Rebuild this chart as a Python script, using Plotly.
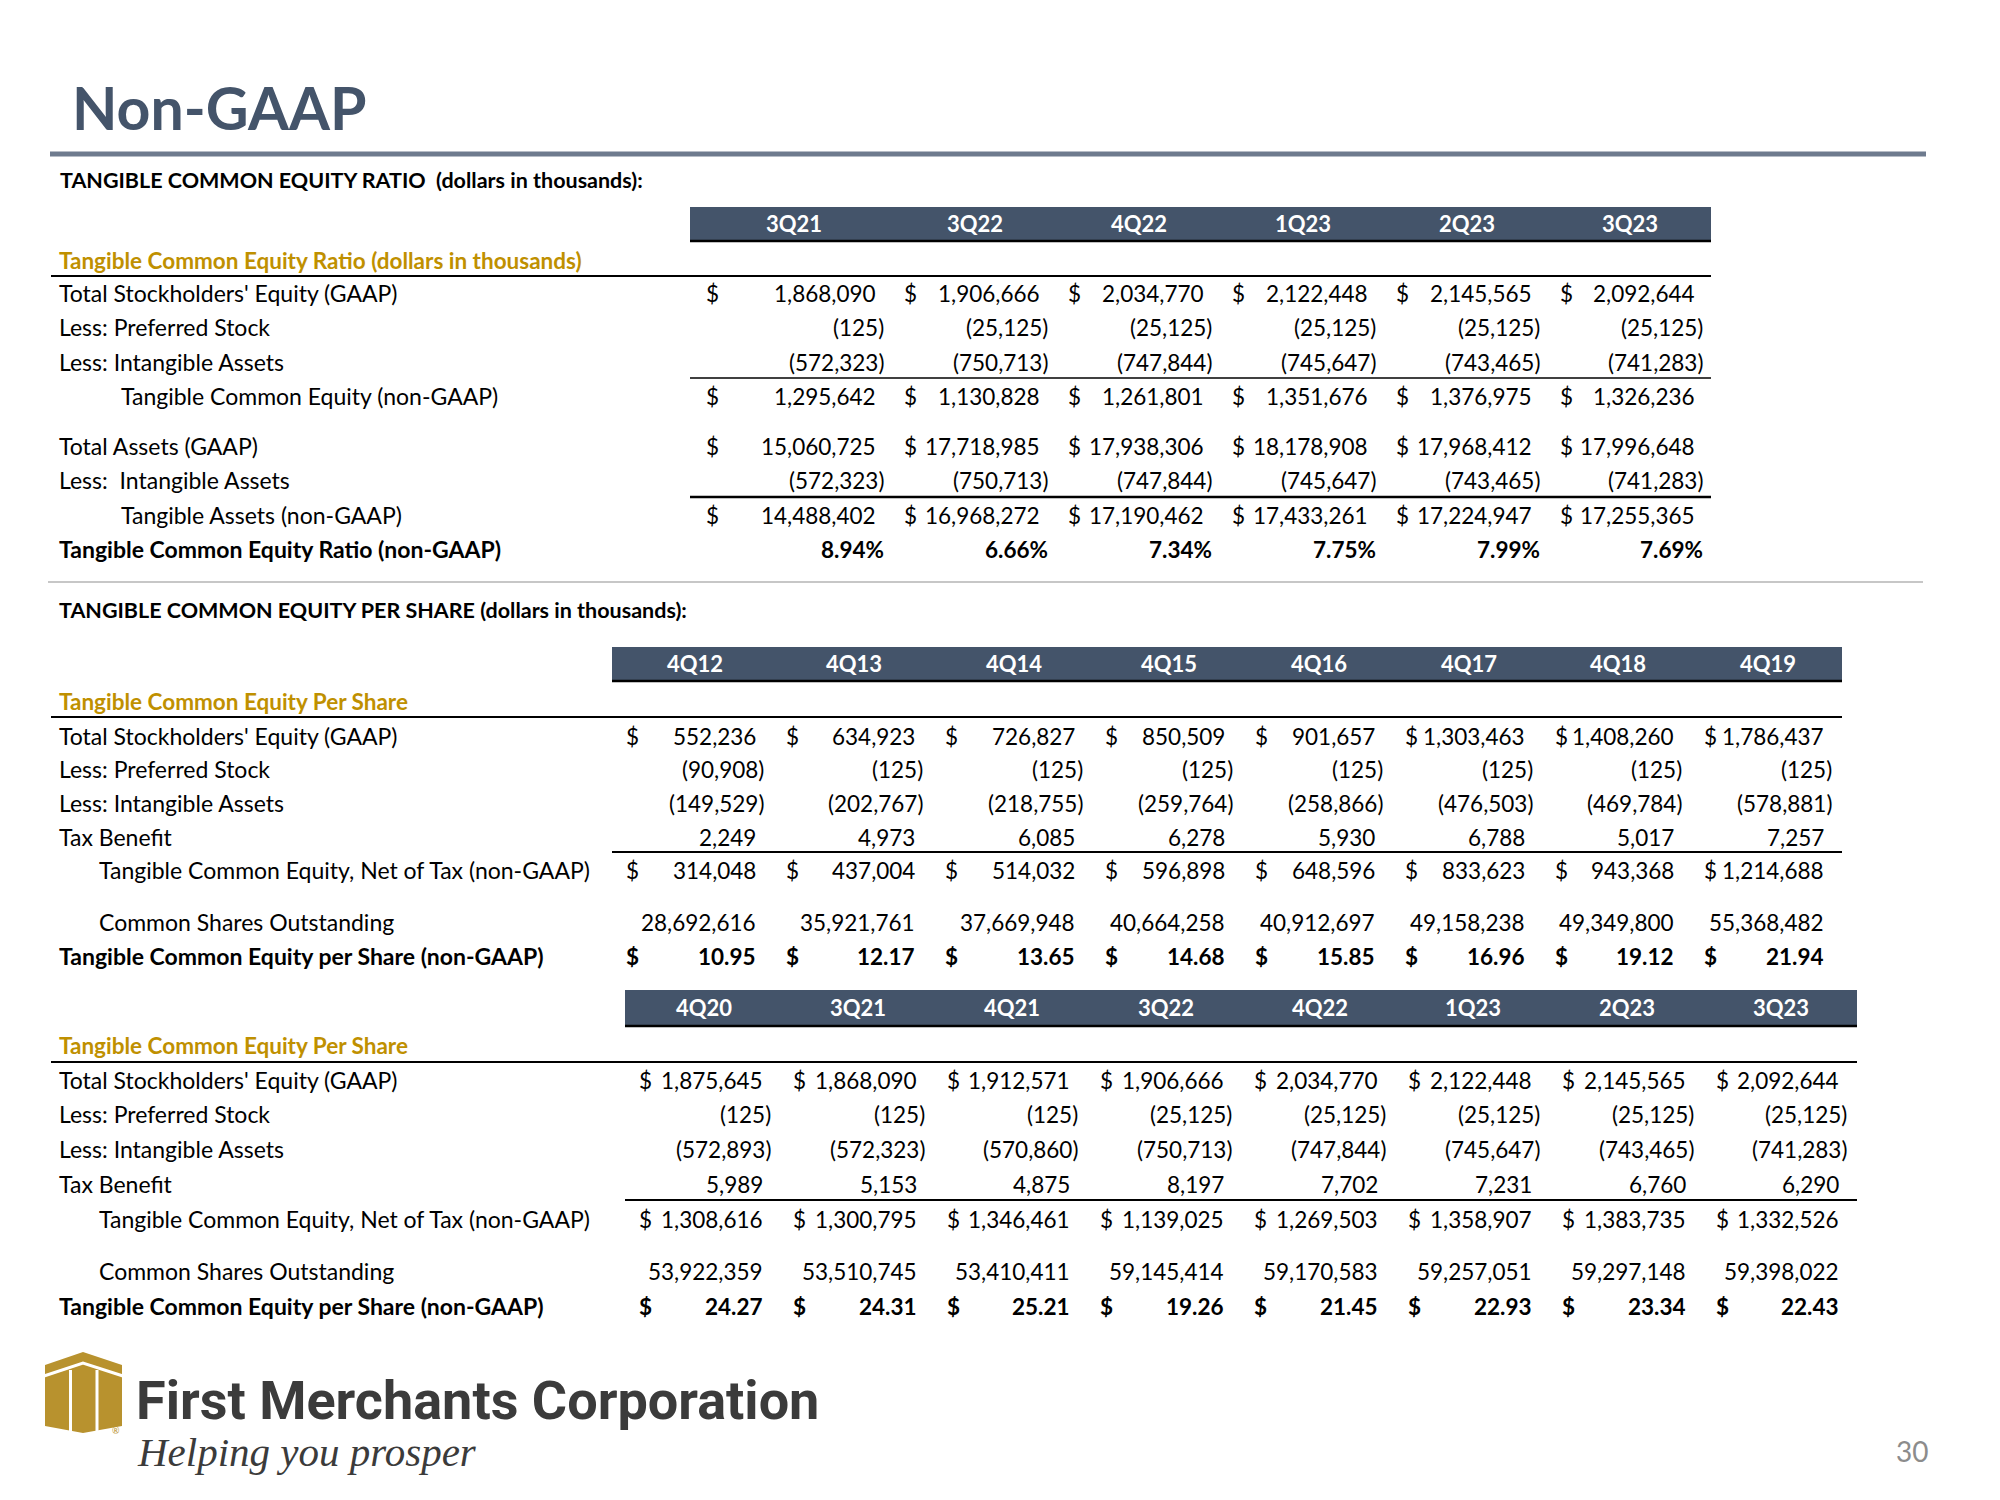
import plotly.graph_objects as go

# ---------------- DATA ----------------
t1_periods = ["3Q21", "3Q22", "4Q22", "1Q23", "2Q23", "3Q23"]
t1_equity = [1868090, 1906666, 2034770, 2122448, 2145565, 2092644]
t1_pref = [-125, -25125, -25125, -25125, -25125, -25125]
t1_intang = [-572323, -750713, -747844, -745647, -743465, -741283]
t1_tce = [1295642, 1130828, 1261801, 1351676, 1376975, 1326236]
t1_assets = [15060725, 17718985, 17938306, 18178908, 17968412, 17996648]
t1_tang_assets = [14488402, 16968272, 17190462, 17433261, 17224947, 17255365]
t1_ratio = [8.94, 6.66, 7.34, 7.75, 7.99, 7.69]

t2_periods = ["4Q12", "4Q13", "4Q14", "4Q15", "4Q16", "4Q17", "4Q18", "4Q19"]
t2_equity = [552236, 634923, 726827, 850509, 901657, 1303463, 1408260, 1786437]
t2_pref = [-90908, -125, -125, -125, -125, -125, -125, -125]
t2_intang = [-149529, -202767, -218755, -259764, -258866, -476503, -469784, -578881]
t2_tax = [2249, 4973, 6085, 6278, 5930, 6788, 5017, 7257]
t2_tce = [314048, 437004, 514032, 596898, 648596, 833623, 943368, 1214688]
t2_shares = [28692616, 35921761, 37669948, 40664258, 40912697, 49158238, 49349800, 55368482]
t2_per_share = [10.95, 12.17, 13.65, 14.68, 15.85, 16.96, 19.12, 21.94]

t3_periods = ["4Q20", "3Q21", "4Q21", "3Q22", "4Q22", "1Q23", "2Q23", "3Q23"]
t3_equity = [1875645, 1868090, 1912571, 1906666, 2034770, 2122448, 2145565, 2092644]
t3_pref = [-125, -125, -125, -25125, -25125, -25125, -25125, -25125]
t3_intang = [-572893, -572323, -570860, -750713, -747844, -745647, -743465, -741283]
t3_tax = [5989, 5153, 4875, 8197, 7702, 7231, 6760, 6290]
t3_tce = [1308616, 1300795, 1346461, 1139025, 1269503, 1358907, 1383735, 1332526]
t3_shares = [53922359, 53510745, 53410411, 59145414, 59170583, 59257051, 59297148, 59398022]
t3_per_share = [24.27, 24.31, 25.21, 19.26, 21.45, 22.93, 23.34, 22.43]

# ---------------- STYLE ----------------
BODY = "Lato, 'Open Sans', sans-serif"
SLATE = "#44546A"
GOLD = "#BF9000"
BODY_SIZE = 23
NUM_SIZE = 22.5
PAREN = 8
OFF = 8  # page body margin compensation

fig = go.Figure()
fig.add_trace(go.Scatter(x=[], y=[], hoverinfo="skip", showlegend=False))
fig.update_layout(
    width=2000, height=1500, margin=dict(l=0, r=0, t=0, b=0),
    paper_bgcolor="white", plot_bgcolor="white", showlegend=False,
    xaxis=dict(range=[OFF, 2000 + OFF], visible=False, fixedrange=True),
    yaxis=dict(range=[1500 + OFF, OFF], visible=False, fixedrange=True),
)

annotations = []
shapes = []


def text(x, y, s, anchor="left", size=BODY_SIZE, color="#000000", bold=False,
         family=BODY, italic=False):
    if bold:
        s = "<b>" + s + "</b>"
    if italic:
        s = "<i>" + s + "</i>"
    annotations.append(dict(x=x, y=y, xref="x", yref="y", text=s, showarrow=False,
                            xanchor=anchor, yanchor="middle",
                            font=dict(family=family, size=size, color=color)))


def hline(y, x0, x1, width=2, color="#000000"):
    shapes.append(dict(type="line", xref="x", yref="y", x0=x0, x1=x1, y0=y, y1=y,
                       line=dict(color=color, width=width)))


def rect(x0, x1, y0, y1, color):
    shapes.append(dict(type="rect", xref="x", yref="y", x0=x0, x1=x1, y0=y0, y1=y1,
                       fillcolor=color, line=dict(width=0), layer="below"))


def fmt_num(v):
    s = f"{abs(v):,}"
    return f"({s})" if v < 0 else s


def draw_table(periods, edges, bar_right, dpad, rpad, bar_y, gold_title, gold_y,
               rows, lines, label_x=57, indent_x=97):
    n = len(periods)
    dollar_x = [edges[i] + dpad for i in range(n)]
    right_x = [edges[i + 1] - rpad for i in range(n)]
    # header bar
    rect(edges[0], bar_right, bar_y[0], bar_y[1], SLATE)
    hline(bar_y[1] + 1, edges[0], bar_right, width=2.5)
    for i, p in enumerate(periods):
        text((edges[i] + 19 + right_x[i]) / 2, (bar_y[0] + bar_y[1]) / 2, p,
             anchor="center", size=22, color="#FFFFFF", bold=True)
    # gold title
    text(label_x, gold_y, gold_title, size=22.5, color=GOLD, bold=True)
    for (y, full, w) in lines:
        hline(y, 51 if full else edges[0], bar_right, width=w)
    for (label, vals, y, indent, dollar, bold, kind) in rows:
        text(indent_x if indent else label_x, y, label, bold=bold)
        for i, v in enumerate(vals):
            if dollar:
                text(dollar_x[i], y, "$", bold=bold, size=NUM_SIZE)
            if kind == "pct":
                text(right_x[i] + PAREN, y, f"{v:.2f}%", anchor="right", bold=bold, size=NUM_SIZE)
            elif kind == "ps":
                text(right_x[i], y, f"{v:.2f}", anchor="right", bold=bold, size=NUM_SIZE)
            else:
                xr = right_x[i] + (PAREN if v < 0 else 0)
                text(xr, y, fmt_num(v), anchor="right", bold=bold, size=NUM_SIZE)


# ---------------- SLIDE HEADER ----------------
text(70, 107, "Non-GAAP", size=59, color=SLATE, bold=True)
hline(154, 50, 1926, width=5, color="#6E7B8E")

text(58, 180, "TANGIBLE COMMON EQUITY RATIO\u00a0 (dollars in thousands):", size=21.5, bold=True)

# ---------------- TABLE 1 ----------------
draw_table(
    t1_periods, [690, 888, 1052, 1216, 1380, 1544, 1707], 1711, 14, 10,
    (207, 240), "Tangible Common Equity Ratio (dollars in thousands)", 260,
    [
        ("Total Stockholders' Equity (GAAP)", t1_equity, 293, False, True, False, "num"),
        ("Less: Preferred Stock", t1_pref, 327, False, False, False, "num"),
        ("Less: Intangible Assets", t1_intang, 362, False, False, False, "num"),
        ("Tangible Common Equity (non-GAAP)", t1_tce, 396, True, True, False, "num"),
        ("Total Assets (GAAP)", t1_assets, 446, False, True, False, "num"),
        ("Less:\u00a0 Intangible Assets", t1_intang, 480, False, False, False, "num"),
        ("Tangible Assets (non-GAAP)", t1_tang_assets, 515, True, True, False, "num"),
        ("Tangible Common Equity Ratio (non-GAAP)", t1_ratio, 549, False, False, True, "pct"),
    ],
    [(276, True, 2), (378, False, 1.5), (497, False, 2.5)],
    indent_x=119,
)

hline(582, 48, 1923, width=1.5, color="#B4B4B4")
text(57, 610, "TANGIBLE COMMON EQUITY PER SHARE (dollars in thousands):", size=21.5, bold=True)

# ---------------- TABLE 2 ----------------
draw_table(
    t2_periods, [612, 772, 931, 1091, 1241, 1391, 1541, 1690, 1840], 1842, 12, 14,
    (647, 680), "Tangible Common Equity Per Share", 701,
    [
        ("Total Stockholders' Equity (GAAP)", t2_equity, 736, False, True, False, "num"),
        ("Less: Preferred Stock", t2_pref, 769, False, False, False, "num"),
        ("Less: Intangible Assets", t2_intang, 803, False, False, False, "num"),
        ("Tax Benefit", t2_tax, 837, False, False, False, "num"),
        ("Tangible Common Equity, Net of Tax (non-GAAP)", t2_tce, 870, True, True, False, "num"),
        ("Common Shares Outstanding", t2_shares, 922, True, False, False, "num"),
        ("Tangible Common Equity per Share (non-GAAP)", t2_per_share, 956, False, True, True, "ps"),
    ],
    [(717, True, 2), (852, False, 2)],
)

# ---------------- TABLE 3 ----------------
t3_edges = [625 + 153.8 * i for i in range(9)]
draw_table(
    t3_periods, t3_edges, 1857, 12, 14,
    (990, 1025), "Tangible Common Equity Per Share", 1045,
    [
        ("Total Stockholders' Equity (GAAP)", t3_equity, 1080, False, True, False, "num"),
        ("Less: Preferred Stock", t3_pref, 1114, False, False, False, "num"),
        ("Less: Intangible Assets", t3_intang, 1149, False, False, False, "num"),
        ("Tax Benefit", t3_tax, 1184, False, False, False, "num"),
        ("Tangible Common Equity, Net of Tax (non-GAAP)", t3_tce, 1219, True, True, False, "num"),
        ("Common Shares Outstanding", t3_shares, 1271, True, False, False, "num"),
        ("Tangible Common Equity per Share (non-GAAP)", t3_per_share, 1306, False, True, True, "ps"),
    ],
    [(1062, True, 2), (1200, False, 2)],
)

# ---------------- LOGO / FOOTER ----------------
LOGO_GOLD = "#B8922E"
shapes.append(dict(type="path", xref="x", yref="y",
                   path="M 45 1365 L 83 1352 L 122 1365 L 122 1426 L 83 1433 L 45 1426 Z",
                   fillcolor=LOGO_GOLD, line=dict(width=0)))
shapes.append(dict(type="path", xref="x", yref="y",
                   path="M 44 1376 L 83 1363 L 123 1376",
                   line=dict(color="white", width=3)))
for xv in (70.5, 97):
    shapes.append(dict(type="line", xref="x", yref="y", x0=xv, x1=xv, y0=1370, y1=1436,
                       line=dict(color="white", width=3)))
text(116, 1430, "®", anchor="center", size=9, color=LOGO_GOLD)
text(134, 1400, "First Merchants Corporation", size=54, color="#3B3B3B", bold=True,
     family="Roboto, 'DejaVu Sans', sans-serif")
text(135, 1452, "Helping you prosper", size=41, color="#3B3B3B", italic=True,
     family="'Liberation Serif', 'DejaVu Serif', serif")
text(1912, 1451, "30", anchor="center", size=28, color="#8C8C8C")

fig.update_layout(annotations=annotations, shapes=shapes)
fig.write_html("out.html")
